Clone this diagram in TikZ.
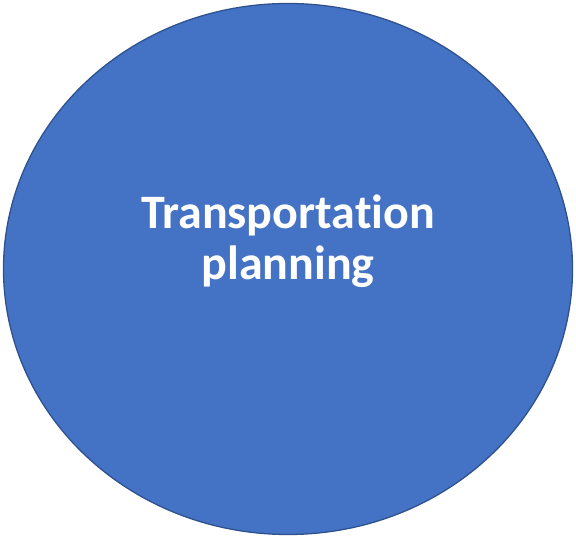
\documentclass[tikz,border=0pt]{standalone}
\usepackage{fontspec}
\setmainfont[Ligatures=NoCommon]{Carlito}
\definecolor{fillblue}{HTML}{4472C4}
\definecolor{edgeblue}{HTML}{2F528F}
\tikzset{bubble/.style={ellipse, fill=fillblue, draw=edgeblue, line width=1.3pt, minimum width=569pt, minimum height=531pt, inner sep=0pt},
  label/.style={text=white, font=\fontsize{48}{51}\selectfont\bfseries, align=center}}
\usetikzlibrary{shapes.geometric}
\begin{document}
\begin{tikzpicture}[x=1pt,y=1pt]
\useasboundingbox (0,0) rectangle (576,538);
\node[bubble] (c) at (288,269) {};
\node[label, anchor=base] (t) at (288,309) {Transportation};
\node[label, anchor=base] (p) at (288,258) {planning};
\end{tikzpicture}
\end{document}
